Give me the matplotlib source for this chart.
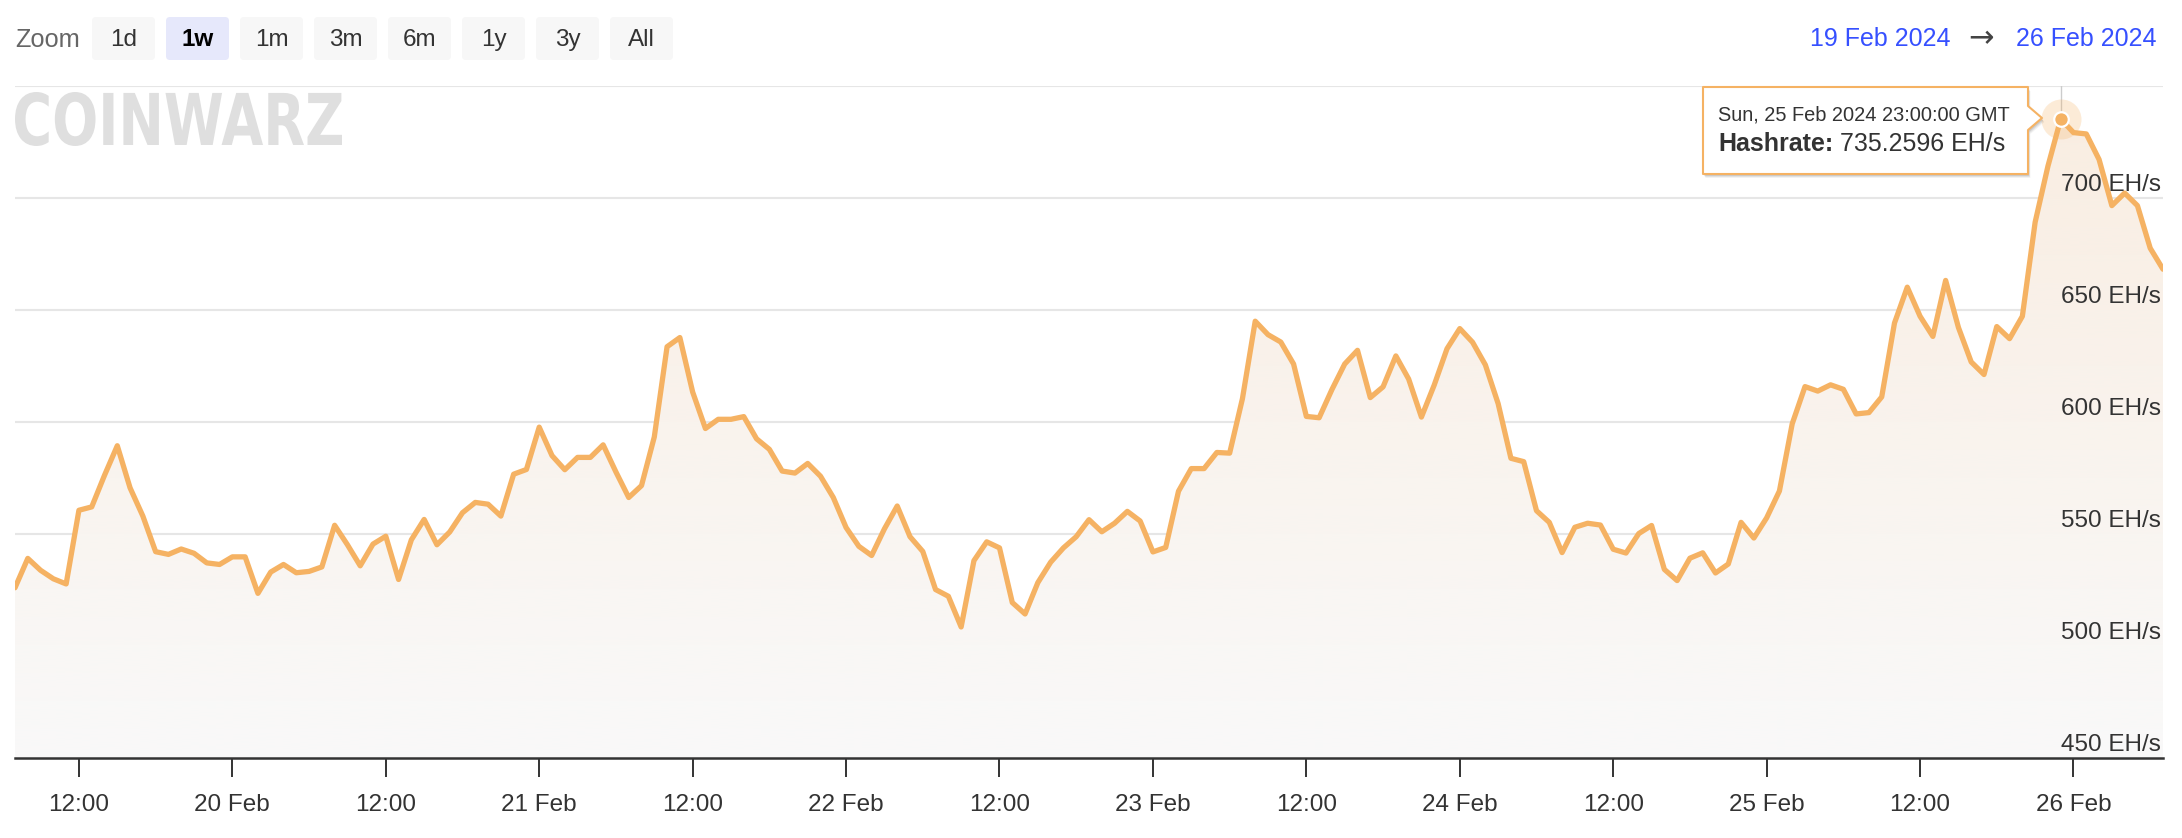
import numpy as np
import pandas as pd
import matplotlib
matplotlib.use('Agg')
import matplotlib.pyplot as plt
import matplotlib.dates as mdates
from matplotlib.patches import FancyBboxPatch, Polygon, PathPatch
from matplotlib.textpath import TextPath
from matplotlib.font_manager import FontProperties
from matplotlib.transforms import Affine2D
from matplotlib.colors import to_rgb

plt.rcParams['font.family'] = ['Liberation Sans', 'DejaVu Sans']

colors = {
    'line': '#f5b263',
    'fill_top': '#f9ede1',
    'fill_bottom': '#f9f9f9',
    'grid': '#e6e6e6',
    'axis': '#333333',
    'text': '#333333',
    'muted': '#666666',
    'button': '#f7f7f7',
    'button_on': '#e6e8fb',
    'blue': '#3650ff',
    'logo': '#dfdfdf',
}

# hourly network hashrate in EH/s, starting 19 Feb 2024 07:00 GMT
start = '2024-02-19 07:00'
hashrate = [
    526.0, 539.1, 533.8, 530.0, 527.7, 560.6, 562.1, 576.2, 589.4, 570.6,
    558.0, 542.1, 540.9, 543.3, 541.4, 537.1, 536.4, 539.8, 539.8, 523.5,
    533.0, 536.4, 532.7, 533.3, 535.3, 553.9, 545.2, 535.8, 545.5, 549.0,
    529.7, 547.4, 556.5, 545.2, 550.9, 559.5, 564.1, 563.3, 558.0, 576.7,
    578.8, 597.7, 585.0, 578.7, 584.2, 584.2, 589.8, 577.7, 566.3, 571.6,
    593.3, 633.6, 637.7, 613.4, 597.1, 601.2, 601.2, 602.4, 592.5, 587.8,
    578.1, 577.2, 581.5, 575.8, 566.3, 552.9, 544.5, 540.4, 552.3, 562.5,
    548.8, 542.2, 525.2, 522.2, 508.5, 538.1, 546.5, 543.8, 519.4, 514.3,
    528.3, 537.4, 543.8, 548.8, 556.4, 551.0, 554.8, 560.1, 555.8, 542.0,
    544.0, 569.1, 579.2, 579.2, 586.4, 586.1, 610.4, 645.0, 639.0, 635.7,
    625.9, 602.5, 601.9, 614.5, 625.9, 632.0, 610.9, 615.7, 629.5, 619.2,
    602.2, 616.5, 632.7, 641.7, 635.6, 625.5, 608.2, 583.8, 582.3, 560.4,
    555.2, 541.7, 553.0, 554.8, 554.0, 543.2, 541.5, 550.2, 553.8, 534.2,
    529.2, 539.2, 541.6, 532.6, 536.6, 555.2, 548.2, 557.2, 569.2, 599.2,
    615.8, 613.8, 616.6, 614.6, 603.6, 604.2, 611.2, 644.2, 660.2, 647.2,
    638.2, 663.2, 642.2, 626.8, 621.2, 642.6, 637.2, 647.2, 689.2, 714.2,
    735.2596, 729.2, 728.6, 717.2, 696.6, 702.2, 696.6, 677.6, 668.2,
]
times = pd.date_range(start, periods=len(hashrate), freq='h')
tick_times = pd.date_range('2024-02-19 12:00', '2024-02-26 00:00', freq='12h')
y_ticks = [450, 500, 550, 600, 650, 700]
y_min, y_max = 450, 750
zoom_buttons = ['1d', '1w', '1m', '3m', '6m', '1y', '3y', 'All']
selected = '1w'
hover = 160  # hovered point: 25 Feb 23:00

W, H = 2182, 838
fig = plt.figure(figsize=(W / 100, H / 100), dpi=100, facecolor='white')
ax = fig.add_axes([15 / W, 1 - 758 / H, 2148 / W, 672 / H])

x = mdates.date2num(times)
y = np.array(hashrate)

# gradient area fill, clipped to the area under the line
top = np.array(to_rgb(colors['fill_top']))
bot = np.array(to_rgb(colors['fill_bottom']))
t = np.linspace(0, 1, 256)[:, None, None]
grad = top * (1 - t) + bot * t
im = ax.imshow(grad, extent=[x[0], x[-1], y_min, y_max], aspect='auto',
               origin='upper', zorder=1, interpolation='bilinear')
area = ax.fill_between(x, y, y_min, color='none', lw=0)
im.set_clip_path(area.get_paths()[0], ax.transData)

ax.plot(x, y, color=colors['line'], lw=3.8, zorder=3,
        solid_joinstyle='round', solid_capstyle='round')

# crosshair + hovered marker
ax.axvline(x[hover], color='#cccccc', lw=1.0, zorder=0.8)
ax.scatter([x[hover]], [y[hover]], s=830, color=colors['line'], alpha=0.25, lw=0, zorder=4)
ax.scatter([x[hover]], [y[hover]], s=110, color=colors['line'], edgecolor='white', lw=1.6, zorder=5)

ax.set_xlim(x[0], x[-1])
ax.set_ylim(y_min, y_max)

# grid / axes
ax.set_yticks(y_ticks + [y_max])
ax.yaxis.grid(True, color=colors['grid'], lw=1.5)
ax.set_axisbelow(True)
ax.tick_params(axis='y', length=0, labelleft=False)
for s in ['top', 'left', 'right']:
    ax.spines[s].set_visible(False)
ax.spines['bottom'].set_color(colors['axis'])
ax.spines['bottom'].set_linewidth(1.8)
ax.spines['bottom'].set_zorder(6)

ax.set_xticks(mdates.date2num(tick_times))
ax.set_xticklabels(['12:00' if tt.hour == 12 else f'{tt.day} {tt:%b}' for tt in tick_times])
ax.tick_params(axis='x', length=14, width=1.4, color=colors['axis'],
               labelsize=17.5, labelcolor=colors['text'], pad=12)

for v in y_ticks:
    ax.annotate(f'{v} EH/s', xy=(1, v), xycoords=('axes fraction', 'data'),
                xytext=(-1.5, 9.7), textcoords='offset points', ha='right', va='center',
                fontsize=17.5, color=colors['text'], zorder=7)

# overlay in pixel coordinates for the chart chrome
oax = fig.add_axes([0, 0, 1, 1])
oax.set_xlim(0, W)
oax.set_ylim(H, 0)
oax.axis('off')

oax.text(15, 40, 'Zoom', fontsize=18.3, color=colors['muted'], va='center', ha='left')
for i, lab in enumerate(zoom_buttons):
    bx = 92 + i * 74
    on = lab == selected
    oax.add_patch(FancyBboxPatch((bx, 17), 63, 43, boxstyle='round,pad=0,rounding_size=4',
                                 fc=colors['button_on'] if on else colors['button'], ec='none'))
    oax.text(bx + 31.5, 40, lab, fontsize=17.5, ha='center', va='center',
             color='black' if on else colors['text'], fontweight='bold' if on else 'normal')

oax.text(1950, 39, f'{times[0].day} {times[0]:%b %Y}', fontsize=18, color=colors['blue'],
         ha='right', va='center')
oax.text(1981, 39, '\u2192', fontsize=22, color='#444444', ha='center', va='center',
         family=['DejaVu Sans'])
oax.text(2156, 39, f'{times[-1].day} {times[-1]:%b %Y}', fontsize=18, color=colors['blue'],
         ha='right', va='center')

# CoinWarz watermark
tp = TextPath((0, 0), 'COINWARZ', size=100, prop=FontProperties(family='DejaVu Sans', weight='bold'))
ext = tp.get_extents()
tr = (Affine2D().translate(-ext.x0, -ext.y0)
      .scale(327 / ext.width, -54 / ext.height).translate(15, 146))
oax.add_patch(PathPatch(tr.transform_path(tp), fc=colors['logo'], ec='none'))

# tooltip
tip = [(1703, 87), (2028, 87), (2028, 106), (2042, 118), (2028, 130), (2028, 174), (1703, 174)]
for k, a in [(4, 0.05), (3, 0.07), (2, 0.09)]:
    oax.add_patch(Polygon([(px + k * 0.6, py + k) for px, py in tip], closed=True,
                          fc='black', ec='none', alpha=a))
oax.add_patch(Polygon(tip, closed=True, fc='white', ec=colors['line'], lw=1.5, joinstyle='round'))
oax.text(1718, 115, times[hover].strftime('%a, %d %b %Y %H:%M:%S GMT'), fontsize=14.4,
         color=colors['text'], va='center', ha='left')
t1 = oax.text(1718, 144, 'Hashrate:', fontsize=18, fontweight='bold',
              color=colors['text'], va='center', ha='left')
oax.annotate(f' {y[hover]:.4f} EH/s', xy=(1, 0.5), xycoords=t1, fontsize=18,
             color=colors['text'], va='center', ha='left')

fig.savefig('out.png', dpi=100, facecolor='white')
